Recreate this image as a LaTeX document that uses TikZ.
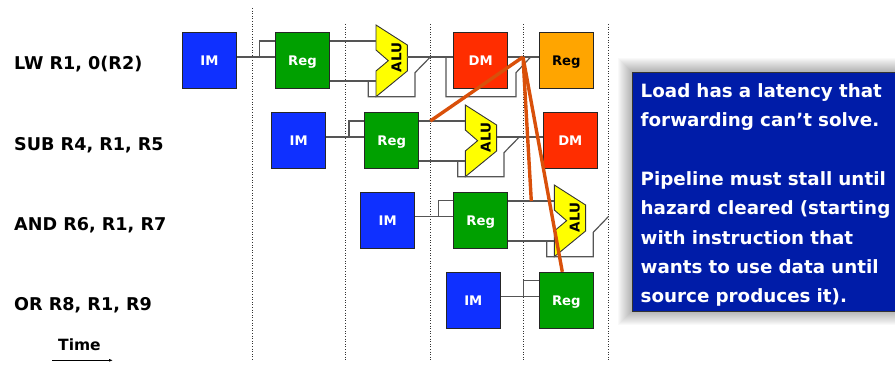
\documentclass[tikz,border=0pt]{standalone}
\usepackage{fontspec}
\setmainfont{DejaVu Sans}
\usetikzlibrary{arrows.meta}
\definecolor{imblue}{HTML}{0F30FF}
\definecolor{reggreen}{HTML}{00A000}
\definecolor{dmred}{HTML}{FF2D00}
\definecolor{regorange}{HTML}{FFA500}
\definecolor{alu}{HTML}{FFFF00}
\definecolor{hazard}{HTML}{D9500A}
\definecolor{note}{HTML}{001CA8}
\definecolor{wire}{HTML}{555555}
\tikzset{
  stage/.style={draw=black!85,line width=1pt,minimum width=54.5pt,minimum height=56pt,inner sep=0pt,font=\bfseries\fontsize{13.2}{14}\selectfont,text=white,text depth=0pt},
  imbox/.style={stage,fill=imblue},
  regbox/.style={stage,fill=reggreen},
  dmbox/.style={stage,fill=dmred},
  wbbox/.style={stage,fill=regorange,text=black},
  wiring/.style={draw=wire,line width=1.2pt},
  cycle line/.style={draw=black!80,line width=0.7pt,dash pattern=on 1pt off 1.6pt},
  hazardline/.style={draw=hazard,line width=3.4pt},
  rowlabel/.style={anchor=base west,inner sep=0pt,font=\bfseries\fontsize{17.6}{18}\selectfont},
}
% ALU polygon at top-left corner (#2,#3), named #1
\newcommand{\aluat}[3]{%
  \draw[draw=black!80,line width=0.9pt,fill=alu] (#2,#3) -- ++(31.3,20) -- ++(0,26) -- ++(-31.3,25.7) -- ++(0,-25.7) -- ++(12.3,-10.3) -- ++(-12.3,-10.7) -- cycle;
  \node[rotate=90,inner sep=0pt,font=\bfseries\fontsize{13.5}{15}\selectfont] (#1) at (#2+20.5,#3+32.5) {ALU};
  \coordinate (#1a) at (#2,#3+16);
  \coordinate (#1b) at (#2,#3+56);
  \coordinate (#1o) at (#2+31.3,#3+32);
}
\begin{document}
\begin{tikzpicture}[x=1pt,y=-1pt]
\useasboundingbox (0,0) rectangle (895,366);
% cycle boundaries
\coordinate (t1) at (252.5,8);   \coordinate (b1) at (252.5,360);
\coordinate (t2) at (345.3,24);  \coordinate (b2) at (345.3,360);
\coordinate (t3) at (430.3,24);  \coordinate (b3) at (430.3,360);
\coordinate (t4) at (523.3,24);  \coordinate (b4) at (523.3,360);
\coordinate (t5) at (608.6,24);  \coordinate (b5) at (608.6,360);
\foreach \i in {1,...,5} \draw[cycle line] (t\i) -- (b\i);

\coordinate (f1) at (430.3,57);  \coordinate (f1d) at (415,72.7);
\coordinate (f2) at (530.7,57);  \coordinate (f2d) at (516,72.7);
\coordinate (f3) at (519.3,137); \coordinate (f3d) at (504,152.7);
\coordinate (f4) at (608.3,216.7); \coordinate (f4d) at (593.3,232.3);

% stages
\node[imbox]  (im1)  at (209.5,61) {IM};
\node[regbox] (reg1) at (302.5,61) {Reg};
\node[dmbox]  (dm1)  at (480.7,61) {DM};
\node[wbbox]  (wb1)  at (566.3,61) {Reg};
\node[imbox]  (im2)  at (298.7,140.7) {IM};
\node[regbox] (reg2) at (391.7,140.7) {Reg};
\node[dmbox]  (dm2)  at (570.3,140.7) {DM};
\node[imbox]  (im3)  at (387.7,220.7) {IM};
\node[regbox] (reg3) at (480.7,220.7) {Reg};
\node[imbox]  (im4)  at (473.3,300.3) {IM};
\node[regbox] (reg4) at (566.3,300.3) {Reg};

% ALUs
\aluat{aluA}{376}{25}
\aluat{aluB}{465.3}{105}
\aluat{aluC}{554.3}{185}

% row 1 wires
\draw[wiring] (im1.east |- 0,57) -- (reg1.west |- 0,57);
\draw[wiring] (259.7,57) |- (reg1.west |- 0,41);
\draw[wiring] (reg1.east |- aluAa) -- (aluAa);
\draw[wiring] (reg1.east |- aluAb) -- (aluAb);
\draw[wiring] (368.3,81) -- (368.3,96.7) -- (415,96.7) -- (f1d) -- (f1);
\draw[wiring] (aluAo) -- (dm1.west |- aluAo);
\draw[wiring] (446,57) -- (446,96.7) -- (516,96.7) -- (f2d) -- (f2);
\draw[wiring] (dm1.east |- 0,57) -- (wb1.west |- 0,57);
% row 2 wires
\draw[wiring] (im2.east |- 0,137) -- (reg2.west |- 0,137);
\draw[wiring] (349,137) |- (reg2.west |- 0,121);
\draw[wiring] (reg2.east |- aluBa) -- (aluBa);
\draw[wiring] (reg2.east |- aluBb) -- (aluBb);
\draw[wiring] (457.7,161) -- (457.7,176.7) -- (504,176.7) -- (f3d) -- (f3);
\draw[wiring] (aluBo) -- (dm2.west |- aluBo);
% row 3 wires
\draw[wiring] (im3.east |- 0,216.7) -- (reg3.west |- 0,216.7);
\draw[wiring] (438.3,216.7) |- (reg3.west |- 0,200.7);
\draw[wiring] (reg3.east |- aluCa) -- (aluCa);
\draw[wiring] (reg3.east |- aluCb) -- (aluCb);
\draw[wiring] (546.7,241) -- (546.7,256.7) -- (593.3,256.7) -- (f4d) -- (f4);
% row 4 wires
\draw[wiring] (im4.east |- 0,296.7) -- (reg4.west |- 0,296.7);
\draw[wiring] (523.7,296.7) |- (reg4.west |- 0,280.3);

% hazard lines
\coordinate (src) at (523,57);
\coordinate (h2) at (430.3,121);
\coordinate (h3) at (531.3,201);
\draw[hazardline] (src) -- (h2);
\draw[hazardline] (src) -- (h3);
\draw[hazardline] (src) -- (reg4.north -| 562.3,0);

% row labels
\node[rowlabel] (l1) at (14,70)  {LW R1, 0(R2)};
\node[rowlabel] (l2) at (14,151) {SUB R4, R1, R5};
\node[rowlabel] (l3) at (14,231) {AND R6, R1, R7};
\node[rowlabel] (l4) at (14,311) {OR R8, R1, R9};
\node[rowlabel,font=\bfseries\fontsize{15.5}{16}\selectfont] (tm) at (58,351) {Time};
\coordinate (ta) at (52,360.3); \coordinate (tb) at (113,360.3);
\draw[-{Latex[length=4pt,width=3pt]},line width=0.8pt] (ta) -- (tb);

% note with soft shadow
\foreach \s in {1,...,14}
  \fill[black,opacity=0.022] (631.7-\s,71.7-\s) rectangle (895,310.7+\s);
\node[draw=black!80,line width=0.8pt,fill=note,text=white,anchor=north west,inner sep=0pt,
  minimum width=264pt,minimum height=239pt] (note) at (631.7,71.7) {};
\node[anchor=north west,inner sep=0pt,text=white,align=left,text width=254pt,
  font=\bfseries\fontsize{18.3}{29.3}\selectfont] (notetext) at (640.5,83.5) {Load has a latency that\\forwarding can't solve.\\[29.3pt]Pipeline must stall until\\hazard cleared (starting\\with instruction that\\wants to use data until\\source produces it).};
\end{tikzpicture}
\end{document}
